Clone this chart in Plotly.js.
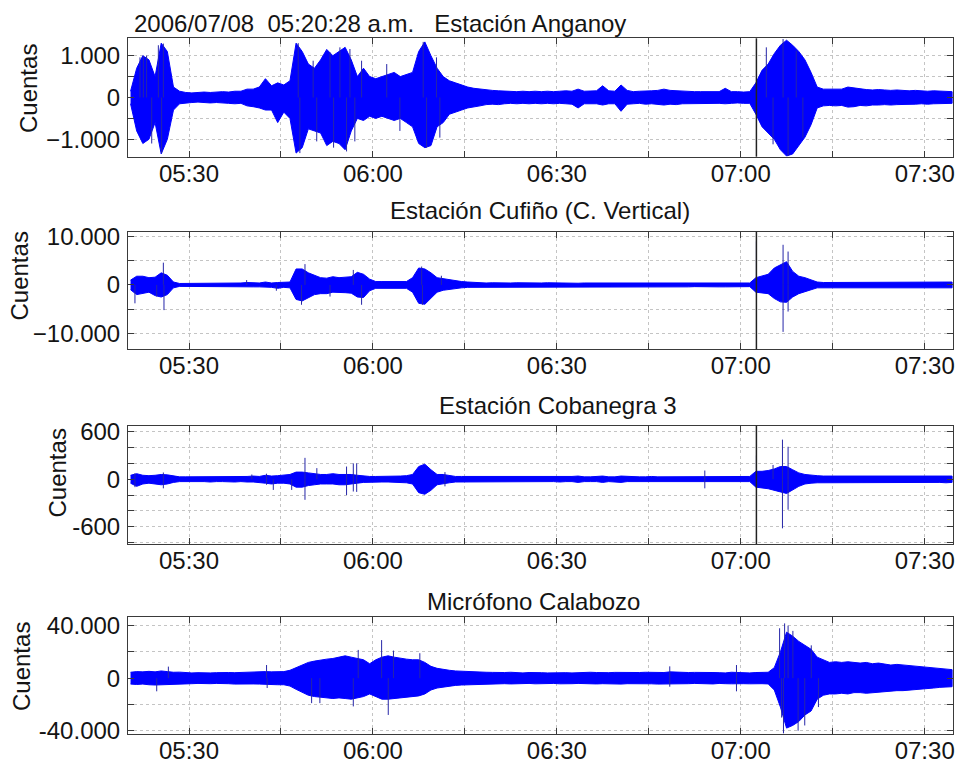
<!DOCTYPE html>
<html>
<head>
<meta charset="utf-8">
<script src="https://cdn.plot.ly/plotly-3.0.1.min.js"></script>
<style>
  html, body { margin: 0; padding: 0; background: #ffffff; }
  #chart { width: 961px; height: 763px; }
</style>
</head>
<body>
<div id="chart"></div>
<script>
// Record of 2006/07/08: one envelope sample per minute from 05:20:28,
// upper (U) and lower (L) amplitude in counts, plus isolated peaks.
const day = '2006-07-08 ';
const startClock = '05:20:28';
const eventClock = '07:02:33';

// Estación Anganoy
const U1 = [150,700,1000,900,500,1300,1100,250,
  150,120,110,120,130,120,130,140,130,150,150,
  200,200,250,450,280,350,300,400,
  1300,1100,800,700,900,1150,1000,1100,1200,900,
  500,700,500,450,500,550,600,500,550,600,
  1100,1330,1000,700,500,400,350,300,250,220,200,
  180,170,160,150,150,140,150,140,150,140,150,140,150,160,150,
  200,150,160,160,280,160,150,300,170,
  140,150,150,160,170,
  200,
  170,160,150,150,140,140,140,150,140,
  220,
  140,140,130,140,
  350,650,800,1050,1250,1370,1250,1100,900,600,250,
  200,200,190,200,250,230,
  200,190,180,190,180,170,180,170,160,170,160,150,160,150,140,140];
const L1 = [150,800,1100,1000,600,1350,1000,300,
  150,130,120,110,120,130,120,130,140,150,140,
  200,220,250,300,300,600,350,500,
  1330,1200,750,800,850,1150,1050,1100,1250,800,
  500,550,450,500,450,500,550,500,600,700,
  1100,1200,1150,700,600,400,350,300,250,220,200,
  170,160,170,150,140,150,140,150,140,150,140,150,140,150,160,
  250,150,150,150,180,150,150,330,160,
  150,140,160,150,160,
  180,
  160,170,150,140,150,140,150,140,140,
  150,
  140,130,140,140,
  400,700,850,1000,1250,1400,1350,1150,950,650,250,
  200,190,200,190,230,220,
  190,200,180,180,170,180,170,170,160,160,150,160,150,150,140,140];
const peakT1 = ['05:22:00','05:22:33','05:23:05','05:23:55','05:25:00','05:25:32','05:25:49',
  '05:47:49','05:48:05','05:50:15','05:50:50','05:53:00','05:53:35','05:54:37','05:55:42',
  '05:56:15','05:57:03','05:58:09','06:02:15','06:04:24','06:08:12','06:08:45','06:10:22','06:10:55',
  '07:04:10','07:05:16','07:06:54','07:07:43','07:09:03','07:10:08'];
const peakV1 = [960,1000,1000,-1100,1250,-1330,1290,
  1300,-1330,880,-1050,1080,-1200,1200,-1290,
  1160,-1050,880,800,-800,1330,-1200,960,-960,
  1200,-1120,1400,-1400,1120,-960];

// Estación Cufiño (C. Vertical)
const U2 = [1000,1800,1800,1500,1600,2500,2000,600,
  300,300,300,300,300,350,300,350,350,350,400,
  500,400,400,600,400,500,500,600,
  3300,3300,2500,2000,1500,1400,1700,1500,1600,1700,
  2600,2200,1200,700,700,700,700,650,700,1500,
  3500,3300,2500,1500,1300,1000,800,700,600,500,500,
  400,450,400,350,400,450,400,400,350,400,450,400,400,450,400,350,400,400,450,400,
  400,350,400,400,450,400,400,350,400,400,350,400,400,350,400,350,400,400,350,400,
  350,400,350,400,
  1500,1800,2200,3500,4200,4800,2800,1800,1500,1000,600,
  500,500,450,500,500,450,500,500,450,500,500,550,500,500,550,500,550,600,550,600,550,600];
const L2 = [1000,2000,1800,1500,2200,2500,2000,600,
  300,300,300,300,300,300,350,300,350,350,350,
  400,400,400,400,500,700,500,600,
  3000,3300,2600,2000,1800,1800,1500,1500,1600,1700,
  2500,2600,1200,700,700,700,700,700,700,1500,
  3800,4000,2800,1500,1100,900,800,600,500,500,400,
  400,400,350,400,400,400,450,400,350,400,400,400,450,400,350,400,400,400,400,450,
  350,400,400,400,400,350,400,400,450,400,400,350,400,400,350,400,400,350,400,400,
  350,400,400,350,
  1500,1600,1800,2800,3500,3600,2500,1800,1400,1000,600,
  500,450,500,500,450,500,450,500,500,500,450,500,500,550,500,500,550,550,600,550,600,600];
const peakT2 = ['05:21:11','05:24:44','05:25:49','05:25:55','05:39:24','05:44:15','05:48:21','05:48:55','05:53:00','05:56:48','05:58:09','06:07:57','06:08:05','06:11:10','07:02:33','07:06:54','07:06:54','07:07:43','07:07:43'];
const peakV2 = [-3800,-2400,4600,-5200,1000,-1200,-4100,4300,-2400,3100,-4100,3800,-4100,1900,9000,8300,-9700,6900,-5500];

// Estación Cobanegra 3
const U3 = [50,70,50,45,50,60,55,40,
  30,30,30,30,35,30,30,30,35,30,35,
  35,40,35,50,40,45,50,60,
  90,90,80,70,60,60,70,60,60,60,
  50,40,35,35,35,35,40,40,45,60,
  160,190,120,60,60,45,35,35,35,30,30,
  30,30,35,30,30,30,35,30,30,30,35,30,30,30,35,40,30,30,35,40,
  30,30,40,35,30,30,30,35,30,30,30,30,35,30,30,30,35,30,30,30,
  30,35,30,35,
  100,100,110,130,160,160,120,80,60,50,45,
  40,40,40,45,40,40,40,45,40,40,40,45,40,40,40,45,40,40,45,40,40,40];
const L3 = [50,90,60,50,60,70,60,40,
  30,30,30,30,30,35,30,30,30,35,30,
  35,35,40,50,60,50,50,60,
  100,100,80,70,60,60,60,70,70,60,
  50,40,35,35,35,35,40,40,45,60,
  170,190,140,70,60,45,35,35,35,30,30,
  30,35,30,30,30,35,30,30,30,35,30,30,35,30,30,40,30,30,30,40,
  30,35,40,30,30,30,35,30,30,30,35,30,30,30,30,35,30,30,30,30,
  35,30,30,30,
  100,110,120,140,160,180,140,90,60,50,45,
  40,45,40,40,40,45,40,40,40,45,40,40,45,40,40,40,40,45,40,40,45,40];
const peakT3 = ['05:21:11','05:21:11','05:25:49','05:25:49','05:40:15','05:42:39','05:42:39','05:43:45','05:46:45','05:48:55','05:48:55','05:50:51','05:55:42','05:55:42','05:56:48','05:56:48','05:57:21','05:57:21','06:11:45','06:11:45','06:54:08','06:54:08','07:02:33','07:05:16','07:06:48','07:06:48','07:07:43','07:07:43'];
const peakV3 = [75,-100,85,-115,60,70,-70,-135,-135,270,-260,140,160,-200,200,-155,200,-160,90,-90,110,-115,300,180,500,-620,410,-385];

// Micrófono Calabozo
const U4 = [4500,5000,4800,5200,4800,5500,5000,4500,4600,4200,
  4000,4200,4000,4000,4200,4000,4300,4200,4400,4500,
  4600,4500,5000,4800,4800,5000,
  6000,8000,10000,12000,13000,14000,14500,15000,16000,17000,
  16000,15000,14000,11000,14000,16000,17000,16000,15000,14500,
  14000,14000,12000,9000,7500,6500,6000,5500,5200,5000,
  4800,4800,
  4500,4400,4200,4300,4500,4200,4000,4300,4500,4200,
  4000,4200,4400,4200,4000,4300,4200,4500,4300,4000,
  4200,4400,4300,4200,4000,4300,4500,4400,4200,4300,
  4800,4500,4200,4300,4400,4200,4000,4300,4200,4000,
  4500,4300,4200,4000,4300,4200,4500,
  8000,20000,35000,32000,28000,25000,22000,16000,14000,12000,
  12500,12000,12500,12000,11500,12000,11000,11500,10500,10000,
  10500,10000,9500,9000,8500,8000,7500,7000,6500,6500];
const L4 = [4500,4800,4500,5000,5200,5000,5000,4800,4400,4400,
  4200,4000,4000,4200,4000,4000,4200,4500,4200,4500,
  4400,4500,4800,5000,5000,5000,
  6000,8500,11000,13000,14000,15000,15000,15500,15000,15500,
  16000,15000,14000,12000,14000,16000,16000,16000,15000,14500,
  14000,13500,12000,9000,7500,6500,6000,5500,5200,5000,
  4800,4800,
  4400,4500,4300,4200,4400,4300,4200,4000,4300,4400,
  4200,4000,4300,4500,4200,4000,4300,4200,4400,4200,
  4000,4300,4500,4200,4300,4000,4200,4300,4500,4200,
  4600,4400,4300,4200,4000,4300,4200,4400,4000,4200,
  4300,4500,4200,4300,4000,4200,4400,
  9000,22000,38000,36000,33000,28000,25000,16000,13000,12000,
  12000,11500,12000,11000,11000,11500,11000,10500,10000,10000,
  9500,9500,9000,9000,8500,8000,7500,7000,6500,6500];
const peakT4 = ['05:24:44','05:26:38','05:42:39','05:42:45','05:50:00','05:51:21','05:56:48','05:57:36','06:01:25','06:02:30','06:03:21','06:07:39','06:48:25','06:48:25','06:59:18','06:59:18',
  '07:06:20','07:06:40','07:07:09','07:07:43','07:06:58','07:08:30','07:09:21','07:10:26','07:11:30','07:12:40'];
const peakV4 = [-10000,8800,10000,-7500,-19000,-19000,-21500,21500,29000,-28000,21000,19000,9000,-6500,10000,-10000,
  38000,-30000,41700,40000,-42000,36000,-40000,-36000,25000,-22000];

// Panel titles and axis labelling
const titles = ['2006/07/08\u00a0\u00a005:20:28 a.m.\u00a0\u00a0\u00a0Estación Anganoy',
                'Estación Cufiño (C. Vertical)', 'Estación Cobanegra 3', 'Micrófono Calabozo'];
const yTitle = 'Cuentas';
const xTickClock = ['05:30','05:45','06:00','06:15','06:30','06:45','07:00','07:15','07:30'];
const xTickText  = ['05:30','','06:00','','06:30','','07:00','','07:30'];
const yTickVals = [
  [-1000,-500,0,500,1000],
  [-10000,-5000,0,5000,10000],
  [-800,-600,-400,-200,0,200,400,600],
  [-40000,-20000,0,20000,40000]];
const yTickText = [
  ['\u22121.000','','0','','1.000'],
  ['\u221210.000','','0','','10.000'],
  ['','-600','','','0','','','600'],
  ['-40.000','','0','','40.000']];
const yRanges = [[-1416,1416],[-13300,11000],[-818,676],[-42500,46800]];

// ---- layout geometry (pixels) ----
const W = 961, H = 763;
const M = {l: 128, r: 8, t: 38, b: 29};
const plotW = W - M.l - M.r, plotH = H - M.t - M.b;
const panelPx = [[38.3,156.7],[231.7,349.3],[425.7,544],[616.7,734.3]];
const toPaperY = py => (H - M.b - py) / plotH;
const toPaperX = px => (px - M.l) / plotW;

function addMinutes(clock, mins) {
  const p = clock.split(':').map(Number);
  const s = p[0]*3600 + p[1]*60 + p[2] + Math.round(mins*60);
  const f = n => String(n).padStart(2, '0');
  return f(Math.floor(s/3600)) + ':' + f(Math.floor((s%3600)/60)) + ':' + f(s%60);
}

const sampleTimes = U1.map((_, i) => day + addMinutes(startClock, i));

const uppers = [U1, U2, U3, U4], lowers = [L1, L2, L3, L4];
const peakTs = [peakT1, peakT2, peakT3, peakT4], peakVs = [peakV1, peakV2, peakV3, peakV4];

const traceBlue = '#0000ff';
const data = [];
const layout = {
  width: W, height: H,
  margin: M,
  paper_bgcolor: '#ffffff', plot_bgcolor: '#ffffff',
  showlegend: false,
  font: {family: 'Liberation Sans, Arial, sans-serif', size: 24, color: '#141414'},
  shapes: [], annotations: []
};

const axisLine = '#3a3a3a';
for (let k = 0; k < 4; k++) {
  const sfx = k === 0 ? '' : String(k + 1);
  const xa = 'x' + sfx, ya = 'y' + sfx;
  const up = uppers[k], lo = lowers[k];

  // envelope band: upper edge forward, lower edge back
  data.push({
    type: 'scatter', mode: 'lines', xaxis: xa, yaxis: ya,
    x: sampleTimes.concat(sampleTimes.slice().reverse()),
    y: up.concat(lo.map(v => -v).reverse()),
    fill: 'toself', fillcolor: traceBlue,
    line: {color: traceBlue, width: 1}, hoverinfo: 'skip'
  });

  // isolated peaks as thin strokes from zero
  const px = [], py = [];
  peakTs[k].forEach((t, j) => { px.push(day + t, day + t, null); py.push(0, peakVs[k][j], null); });
  data.push({
    type: 'scatter', mode: 'lines', xaxis: xa, yaxis: ya,
    x: px, y: py, line: {color: '#2626a8', width: 1}, hoverinfo: 'skip'
  });

  const dom = [toPaperY(panelPx[k][1]), toPaperY(panelPx[k][0])];
  layout['xaxis' + sfx] = {
    type: 'date', anchor: ya, domain: [0, 1],
    range: [day + '05:20:03', day + '07:34:37'],
    tickmode: 'array', tickvals: xTickClock.map(c => day + c), ticktext: xTickText,
    ticks: 'inside', ticklen: 6, tickcolor: axisLine, tickwidth: 1,
    showline: true, linecolor: axisLine, linewidth: 1, mirror: 'ticks',
    showgrid: true, gridcolor: '#c4c4c4', griddash: 'dot', gridwidth: 1,
    zeroline: false, fixedrange: true, ticklabelstandoff: -5
  };
  layout['yaxis' + sfx] = {
    anchor: xa, domain: [Math.max(0, dom[0]), Math.min(1, dom[1])],
    range: yRanges[k],
    tickmode: 'array', tickvals: yTickVals[k], ticktext: yTickText[k],
    ticks: 'inside', ticklen: 6, tickcolor: axisLine, tickwidth: 1,
    showline: true, linecolor: axisLine, linewidth: 1, mirror: 'ticks',
    showgrid: true, gridcolor: '#c4c4c4', griddash: 'dot', gridwidth: 1,
    zeroline: false, fixedrange: true, ticklabelstandoff: 2
  };

  // event marker across the seismic stations
  if (k < 3) {
    layout.shapes.push({
      type: 'line', xref: xa, yref: ya + ' domain',
      x0: day + eventClock, x1: day + eventClock, y0: 0, y1: 1,
      line: {color: '#222222', width: 1.5}
    });
  }
}

// panel titles
const titleLeft = [131.7, 388, 437, 425];
const titleMid = [23.3, 210.3, 405, 601];
titles.forEach((t, k) => layout.annotations.push({
  text: t, xref: 'paper', yref: 'paper',
  x: toPaperX(titleLeft[k]), y: toPaperY(titleMid[k]),
  xanchor: 'left', yanchor: 'middle', showarrow: false,
  font: {size: 24, color: '#141414'}
}));

// y-axis titles
const yTitlePos = [[28, 89], [18.5, 276], [57, 473.5], [21, 667]];
yTitlePos.forEach(p => layout.annotations.push({
  text: yTitle, xref: 'paper', yref: 'paper',
  x: toPaperX(p[0]), y: toPaperY(p[1]),
  xanchor: 'center', yanchor: 'middle', textangle: -90, showarrow: false,
  font: {size: 24, color: '#141414'}
}));

Plotly.newPlot('chart', data, layout, {staticPlot: true, displayModeBar: false});
</script>
</body>
</html>
